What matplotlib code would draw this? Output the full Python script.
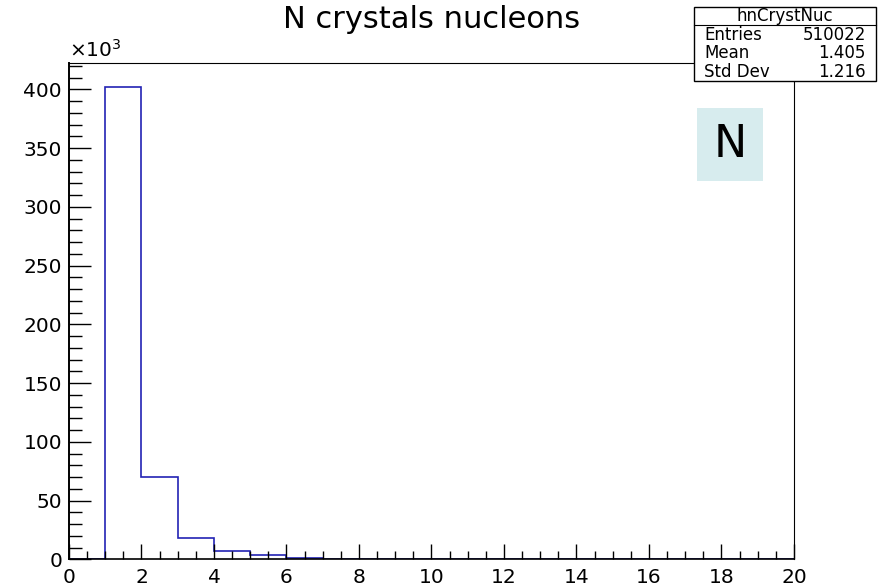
import numpy as np
import matplotlib.pyplot as plt
from matplotlib.patches import Rectangle
from matplotlib.ticker import MultipleLocator

plt.rcParams['font.family'] = ['DejaVu Sans']

# bin edges and contents (in units of 10^3 entries)
edges = np.arange(0, 21, 1)
counts = [0, 402, 70.3, 18.4, 7.1, 3.4, 1.4, 0.5, 0.4, 0.3, 0.2,
          0, 0, 0, 0, 0, 0, 0, 0, 0]

hist_name = "hnCrystNuc"
stat_names = ["Entries", "Mean", "Std Dev"]
stat_values = ["510022", "1.405", "1.216"]

fig = plt.figure(figsize=(8.83, 5.85), dpi=100)
ax = fig.add_axes([0.0781, 0.0439, 0.821, 0.8479])

ax.stairs(counts, edges, color="#2222b4", lw=1.2, baseline=0)

ax.set_xlim(0, 20)
ax.set_ylim(0, 1.05 * max(counts))

ax.xaxis.set_major_locator(MultipleLocator(2))
ax.xaxis.set_minor_locator(MultipleLocator(0.5))
ax.yaxis.set_major_locator(MultipleLocator(50))
ax.yaxis.set_minor_locator(MultipleLocator(10))

ax.tick_params(axis="y", which="major", direction="in", length=16, width=1, labelsize=14.5, pad=5)
ax.tick_params(axis="y", which="minor", direction="in", length=9.5, width=1)
ax.tick_params(axis="x", which="major", direction="in", length=11, width=1, labelsize=14.5, pad=6)
ax.tick_params(axis="x", which="minor", direction="in", length=5.5, width=1)
for s in ax.spines.values():
    s.set_linewidth(0.8)
ax.spines["left"].set_linewidth(1.4)
ax.spines["bottom"].set_linewidth(1.2)

ax.text(0, 1.005, r"$\times$10$^{3}$", transform=ax.transAxes, fontsize=14.5,
        ha="left", va="bottom")

fig.text(432 / 883, 1 - 20 / 585, "N crystals nucleons", fontsize=22,
         ha="center", va="center")

# statistics box
W, H = 883, 585
bx0, bx1, by0, by1 = 694, 876, 7, 81
fig.patches.append(Rectangle((bx0 / W, 1 - by1 / H), (bx1 - bx0) / W, (by1 - by0) / H,
                             transform=fig.transFigure, facecolor="white",
                             edgecolor="black", lw=1, zorder=5))
fig.lines.append(plt.Line2D([bx0 / W, bx1 / W], [1 - 25 / H, 1 - 25 / H],
                            transform=fig.transFigure, color="black", lw=0.8, zorder=6))
fig.text((bx0 + bx1) / 2 / W, 1 - 16 / H, hist_name, fontsize=12,
         ha="center", va="center", zorder=7)
for i, (name, val) in enumerate(zip(stat_names, stat_values)):
    yy = 1 - (35 + 18.5 * i) / H
    fig.text(704 / W, yy, name, fontsize=12, ha="left", va="center", zorder=7)
    fig.text(866 / W, yy, val, fontsize=12, ha="right", va="center", zorder=7)

# label box
nx0, nx1, ny0, ny1 = 697, 763, 108, 181
fig.patches.append(Rectangle((nx0 / W, 1 - ny1 / H), (nx1 - nx0) / W, (ny1 - ny0) / H,
                             transform=fig.transFigure, facecolor="#d7ecee",
                             edgecolor="none", zorder=5))
fig.text((nx0 + nx1) / 2 / W, 1 - (ny0 + ny1) / 2 / H, "N", fontsize=32,
         ha="center", va="center", zorder=6)

fig.savefig("out.png", dpi=100)
